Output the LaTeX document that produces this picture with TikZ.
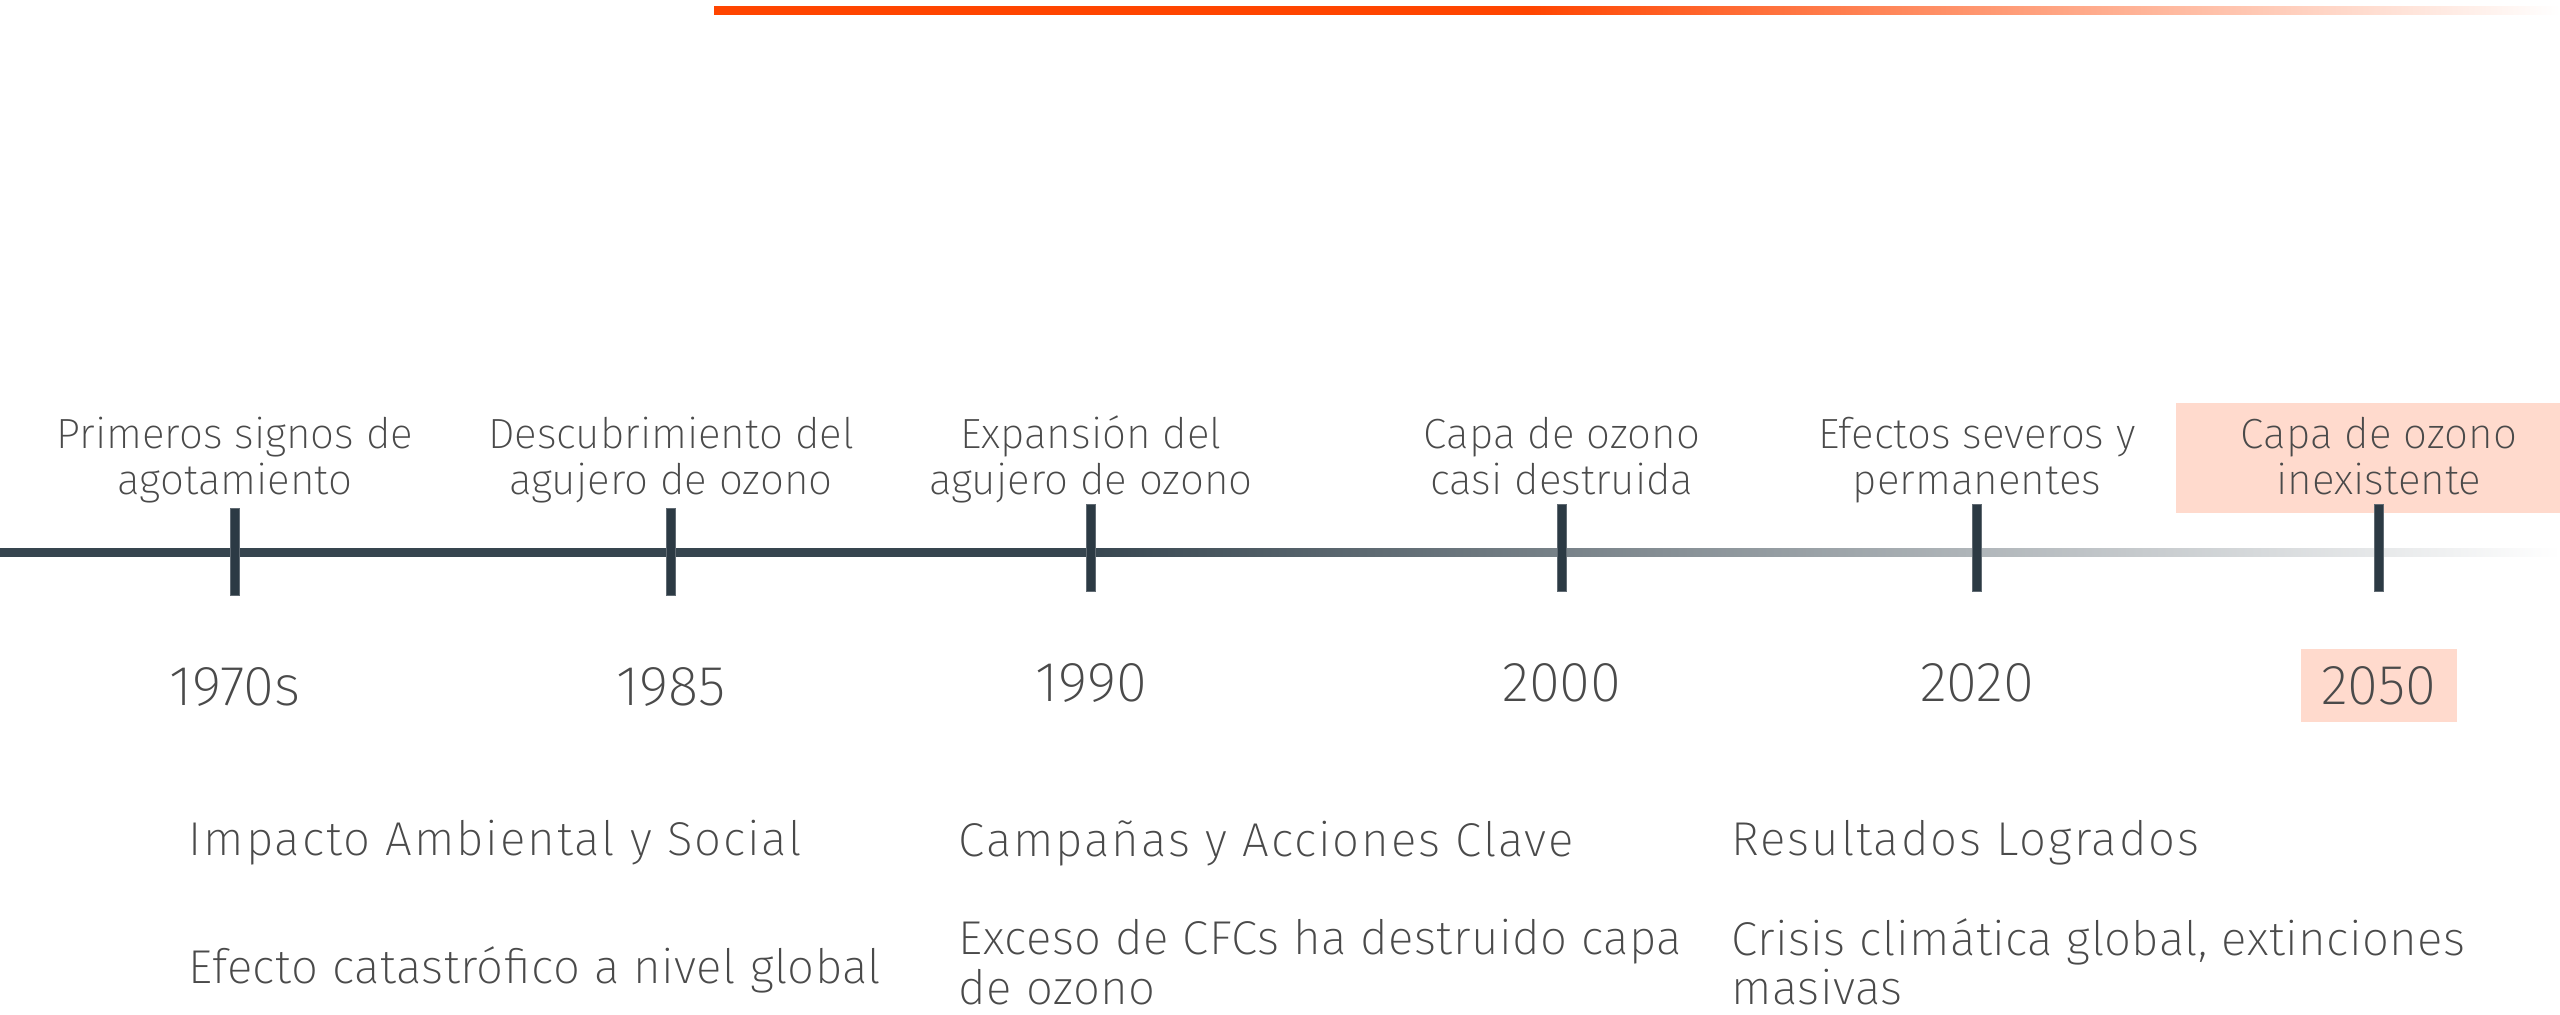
\documentclass[tikz,border=0pt]{standalone}
\usepackage{fontspec}
\usetikzlibrary{positioning}
\setmainfont{Fira Sans ExtraLight}
\newfontfamily\widefont{Fira Sans ExtraLight}[LetterSpace=4]
\newfontfamily\notefont{Fira Sans ExtraLight}[LetterSpace=1]
\definecolor{slate}{HTML}{36454F}
\definecolor{tickdark}{HTML}{2C3A44}
\definecolor{textgray}{HTML}{4A4A4A}
\definecolor{ozoneorange}{HTML}{FF4500}
\definecolor{peach}{HTML}{FFDACD}
\pgfdeclarehorizontalshading{accentfade}{100bp}{color(0bp)=(ozoneorange); color(47bp)=(ozoneorange); color(75bp)=(white); color(100bp)=(white)}
\pgfdeclarehorizontalshading{linefade}{100bp}{color(0bp)=(slate); color(46bp)=(slate); color(75bp)=(white); color(100bp)=(white)}

\begin{document}
\begin{tikzpicture}[x=0.01cm, y=-0.01cm,
    every node/.style={text=textgray, inner sep=0pt},
    tickmark/.style={draw=tickdark!75!white, fill=tickdark, line width=0.4pt, minimum width=0.09cm, minimum height=0.87cm},
    eventlabel/.style={font=\fontsize{12}{13.1}\selectfont, align=center, execute at end node={\vphantom{gy}}},
    yearlabel/.style={font=\fontsize{16}{18}\selectfont},
    yearhi/.style={yearlabel, fill=peach, minimum width=1.56cm, minimum height=0.73cm},
    heading/.style={font=\widefont\fontsize{13.5}{16}\selectfont, anchor=west},
    detail/.style={font=\notefont\fontsize{13.5}{14}\selectfont, anchor=west, align=left}]
  \useasboundingbox[fill=white] (0,0) rectangle (2560,1014);

  % top accent bar
  \shade[shading=accentfade] (714,6) rectangle (2560,14);

  % timeline
  \shade[shading=linefade] (0,548) rectangle (2560,556);
  \fill[peach] (2176,403) rectangle (2560,513);

  \foreach \name/\px/\py/\yr/\ystyle/\ydist/\txt in {
      t1/235/552/1970s/yearlabel/0.71cm/{Primeros signos de\\agotamiento},
      t2/671/552/1985/yearlabel/0.71cm/{Descubrimiento del\\agujero de ozono},
      t3/1091/548/1990/yearlabel/0.71cm/{Expansión del\\agujero de ozono},
      t4/1562/548/2000/yearlabel/0.71cm/{Capa de ozono\\casi destruida},
      t5/1977/548/2020/yearlabel/0.71cm/{Efectos severos y\\permanentes},
      t6/2379/548/2050/yearhi/0.56cm/{Capa de ozono\\inexistente}}{
    \node[tickmark] (\name) at (\px,\py) {};
    \coordinate (\name-top) at (\px,506);
    \node[eventlabel, above=0.02cm of \name-top] (\name-label) {\txt};
    \node[\ystyle, below=\ydist of \name] (\name-year) {\yr};
  }

  % bottom notes
  \node[heading] (impact) at (188,843) {Impacto Ambiental y Social};
  \node[detail] (impact-text) at (188,970) {Efecto catastrófico a nivel global};
  \node[heading] (campaign) at (958,843) {Campañas y Acciones Clave};
  \node[detail] (campaign-text) at (958,962) {Exceso de CFCs ha destruido capa\\de ozono};
  \node[heading] (result) at (1731,843) {Resultados Logrados};
  \node[detail] (result-text) at (1731,962) {Crisis climática global, extinciones\\masivas};
\end{tikzpicture}
\end{document}
